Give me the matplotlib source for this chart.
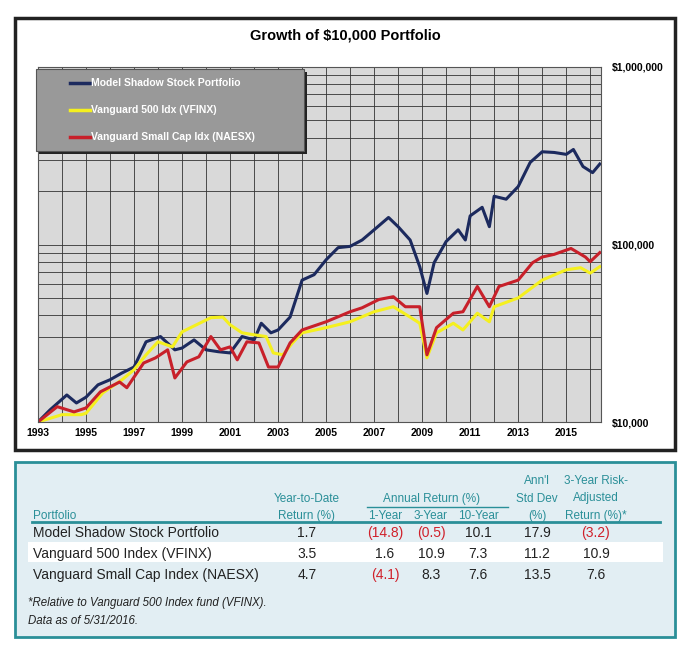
import matplotlib
matplotlib.use("Agg")
import matplotlib.pyplot as plt
from matplotlib.patches import Rectangle
import numpy as np

mssp_x = [1993.0,1993.5,1994.2,1994.6,1995.0,1995.5,1996.0,1996.5,1997.0,1997.5,1998.1,1998.7,1999.0,1999.5,2000.0,2000.5,2001.0,2001.5,2002.0,2002.3,2002.7,2003.0,2003.5,2004.0,2004.5,2005.0,2005.5,2006.0,2006.5,2007.0,2007.6,2008.0,2008.5,2008.9,2009.2,2009.5,2010.0,2010.5,2010.8,2011.0,2011.5,2011.8,2012.0,2012.5,2013.0,2013.5,2014.0,2014.5,2015.0,2015.3,2015.7,2016.1,2016.4]
mssp_y = [10,11.7,14.2,12.8,13.8,16.2,17.3,18.9,20.4,28.3,30.3,25.5,26.1,29,25.5,24.9,24.5,30.3,29,36,31.8,33,39,63,67.6,82,96,97.6,106,121,142,126,106,75,53,79,104,121,106,145,162,126,187,180,212,290,333,330,322,343,275,254,284]
vfinx_x = [1993.0,1994.0,1994.8,1995.0,1995.7,1996.5,1997.0,1997.5,1998.0,1998.6,1999.0,1999.6,2000.2,2000.7,2001.0,2001.5,2002.0,2002.5,2002.8,2003.2,2003.6,2004.0,2005.0,2006.0,2007.0,2007.8,2008.5,2008.9,2009.2,2009.6,2010.3,2010.7,2011.3,2011.8,2012.0,2013.0,2014.0,2015.0,2015.6,2016.0,2016.4]
vfinx_y = [10,11,11,11.2,14.6,17.3,19.7,23.9,28.3,26.5,32.2,35.3,38.7,39,35.3,31.8,31,30.3,24.5,23.9,27.9,31.8,34,36.7,41.8,44.6,39,36,23,31.8,36,33,41,36.7,44.6,50,63,72,74,69,75]
naesx_x = [1993.0,1993.8,1994.5,1995.0,1995.6,1996.4,1996.7,1997.4,1997.9,1998.4,1998.7,1999.2,1999.7,2000.2,2000.6,2001.0,2001.3,2001.7,2002.2,2002.6,2003.0,2003.5,2004.0,2005.0,2006.0,2006.5,2007.2,2007.8,2008.3,2008.9,2009.2,2009.6,2010.3,2010.7,2011.3,2011.8,2012.2,2013.0,2013.6,2014.0,2014.5,2015.2,2015.8,2016.0,2016.4]
naesx_y = [10,12.2,11.4,12,14.8,16.8,15.6,21.5,23,25.5,17.7,21.8,23.3,30.3,25.5,26.5,22.4,28.3,27.9,20.4,20.4,27.9,33,36.7,41.8,44,49,50.8,44.6,44.6,23.9,34,41,41.8,58,44.6,58,63,79,85,88,95,85,80,90]
series_names = ["Model Shadow Stock Portfolio","Vanguard 500 Idx (VFINX)","Vanguard Small Cap Idx (NAESX)"]
series_colors = ["#1c2a5e","#f5f01e","#c8202a"]
year_ticks = list(range(1993, 2016, 2))
y_ticks = [10000, 100000, 1000000]
y_labels = ["$10,000", "$100,000", "$1,000,000"]

tbl_rows = ["Model Shadow Stock Portfolio","Vanguard 500 Index (VFINX)","Vanguard Small Cap Index (NAESX)"]
tbl_vals = [["1.7","(14.8)","(0.5)","10.1","17.9","(3.2)"],
            ["3.5","1.6","10.9","7.3","11.2","10.9"],
            ["4.7","(4.1)","8.3","7.6","13.5","7.6"]]

W, H = 686, 649
fig = plt.figure(figsize=(W/100, H/100), dpi=100)
def fx(x): return x / W
def fy(y): return 1 - y / H

# outer chart box
fig.patches.append(Rectangle((fx(15), fy(450)), fx(660), 432/H, transform=fig.transFigure,
                             fc="white", ec="#222222", lw=2.5, zorder=-5))
fig.text(fx(345), fy(35), "Growth of $10,000 Portfolio", ha="center", va="center",
         fontsize=10.5, fontweight="bold", family="Liberation Sans")

ax = fig.add_axes([fx(38), fy(422), fx(601-38), (422-67)/H])
ax.set_facecolor("#d9d9d9")
for xs, ys, c in zip([mssp_x, vfinx_x, naesx_x], [mssp_y, vfinx_y, naesx_y], series_colors):
    ax.plot(xs, np.array(ys)*1000, color=c, lw=2.2)
ax.set_yscale("log")
ax.set_ylim(10000, 1000000)
ax.set_xlim(1993, 2016.45)
ax.set_xticks(year_ticks)
ax.set_xticklabels([str(y) for y in year_ticks], fontsize=7.5, fontweight="bold", family="Liberation Sans")
ax.set_xticks(range(1994, 2017), minor=True)
ax.yaxis.tick_right()
ax.set_yticks(y_ticks)
ax.set_yticklabels(y_labels, fontsize=7.5, fontweight="bold", family="Liberation Sans")
ax.tick_params(axis="y", which="both", length=0, pad=8)
ax.tick_params(axis="x", which="both", length=0, pad=4)
ax.yaxis.set_minor_formatter(matplotlib.ticker.NullFormatter())
ax.grid(True, which="both", color="#333333", lw=0.6)
ax.set_axisbelow(True)
for s in ax.spines.values():
    s.set_color("#555555"); s.set_linewidth(0.8)

# legend box
fig.patches.append(Rectangle((fx(39), fy(154)), fx(268), 82/H, transform=fig.transFigure,
                             fc="#222222", ec="none", zorder=5))
fig.patches.append(Rectangle((fx(36), fy(151)), fx(268), 82/H, transform=fig.transFigure,
                             fc="#999999", ec="#555555", lw=0.8, zorder=6))
for i, (n, c) in enumerate(zip(series_names, series_colors)):
    yy = 83 + i*27
    fig.lines.append(plt.Line2D([fx(70), fx(90)], [fy(yy), fy(yy)], transform=fig.transFigure,
                                color=c, lw=2.5, zorder=7))
    fig.text(fx(91), fy(yy), n, ha="left", va="center", fontsize=7.5, fontweight="bold",
             color="white", family="Liberation Sans", zorder=7)

# table box
teal = "#2a8f98"
fig.patches.append(Rectangle((fx(15), fy(637)), fx(660), 175/H, transform=fig.transFigure,
                             fc="#e2eef3", ec=teal, lw=2, zorder=-5))
fig.patches.append(Rectangle((fx(28), fy(562)), fx(635), 20/H, transform=fig.transFigure,
                             fc="white", ec="none", zorder=-4))
hf = dict(fontsize=8.5, color=teal, family="Liberation Sans", va="center")
fig.text(fx(33), fy(516), "Portfolio", ha="left", **hf)
fig.text(fx(307), fy(499), "Year-to-Date", ha="center", **hf)
fig.text(fx(307), fy(516), "Return (%)", ha="center", **hf)
fig.text(fx(432), fy(499), "Annual Return (%)", ha="center", **hf)
fig.lines.append(plt.Line2D([fx(367), fx(508)], [fy(507), fy(507)], transform=fig.transFigure, color=teal, lw=1))
for x, t in zip([385, 431, 478], ["1-Year", "3-Year", "10-Year"]):
    fig.text(fx(x), fy(516), t, ha="center", **hf)
for i, t in enumerate(["Ann'l", "Std Dev", "(%)"]):
    fig.text(fx(537), fy(481 + i*17.5), t, ha="center", **hf)
for i, t in enumerate(["3-Year Risk-", "Adjusted", "Return (%)*"]):
    fig.text(fx(596), fy(481 + i*17.5), t, ha="center", **hf)
fig.lines.append(plt.Line2D([fx(32), fx(660)], [fy(522), fy(522)], transform=fig.transFigure, color=teal, lw=2))
cols = [307, 385, 431, 478, 537, 596]
for r, (name, vals) in enumerate(zip(tbl_rows, tbl_vals)):
    yy = 533 + r*21
    fig.text(fx(33), fy(yy), name, ha="left", va="center", fontsize=10, color="#222222", family="Liberation Sans")
    for x, v in zip(cols, vals):
        fig.text(fx(x), fy(yy), v, ha="center", va="center", fontsize=10,
                 color="#d0202a" if v.startswith("(") else "#222222", family="Liberation Sans")
fig.text(fx(28), fy(603), "*Relative to Vanguard 500 Index fund (VFINX).", ha="left", va="center",
         fontsize=8.3, style="italic", color="#222222", family="Liberation Sans")
fig.text(fx(28), fy(621), "Data as of 5/31/2016.", ha="left", va="center",
         fontsize=8.3, style="italic", color="#222222", family="Liberation Sans")

fig.savefig("out.png", dpi=100)
